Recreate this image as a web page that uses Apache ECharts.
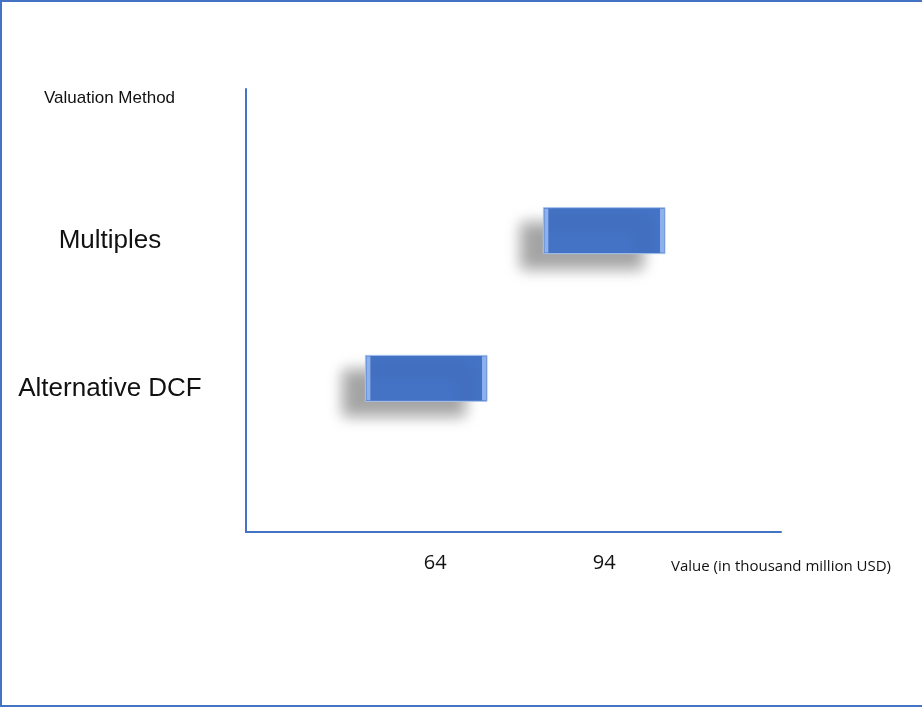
<!DOCTYPE html>
<html>
<head>
<meta charset="utf-8">
<script src="https://cdn.jsdelivr.net/npm/echarts@6/dist/echarts.min.js"></script>
<style>
  html, body { margin: 0; padding: 0; background: #fff; }
  #frame { position: absolute; left: 0; top: 0; width: 922px; height: 707px; box-sizing: border-box;
           border-left: 2px solid #4472C4; border-top: 2px solid #4472C4; border-bottom: 2px solid #4472C4; }
  #chart { position: absolute; left: 0; top: 0; width: 922px; height: 707px; }
</style>
</head>
<body>
<div id="frame"></div>
<div id="chart"></div>
<script>
// Categories (slot 0 and 3 are empty padding slots on the axis)
const categories = ['', 'Alternative DCF', 'Multiples', ''];
// Range of each valuation method (low / high), in thousand million USD
const rangeLow  = [null, 51.6, 83.2, null];
const rangeHigh = [null, 73.2, 104.8, null];
// Tick labels shown on the value axis
const tickLabels = [64, 94];
const xMin = 30.4, xMax = 125.4;

const chart = echarts.init(document.getElementById('chart'), null, { renderer: 'canvas' });

const barData = [];
for (let i = 0; i < categories.length; i++) {
  if (rangeLow[i] != null) barData.push([rangeLow[i], rangeHigh[i], i]);
}

function renderBar(params, api) {
  const p0 = api.coord([api.value(0), api.value(2)]);
  const p1 = api.coord([api.value(1), api.value(2)]);
  const h = 46;
  const x = p0[0], w = p1[0] - p0[0];
  const y = p0[1] - h / 2 - 6;
  return {
    type: 'group',
    children: [
      { type: 'rect', shape: { x: x, y: y, width: w, height: h },
        style: { fill: '#4472C4', stroke: '#A9C4EE', lineWidth: 1,
                 shadowBlur: 14, shadowOffsetX: -22, shadowOffsetY: 15, shadowColor: 'rgba(0,0,0,0.36)' } },
      { type: 'rect', shape: { x: x + 1, y: y + 1, width: 4, height: h - 2 },
        style: { fill: '#8DB1EC' } },
      { type: 'rect', shape: { x: x + w - 5, y: y + 1, width: 4, height: h - 2 },
        style: { fill: '#8DB1EC' } }
    ]
  };
}

chart.setOption({
  animation: false,
  backgroundColor: 'transparent',
  title: [
    { text: 'Valuation Method', left: 39, top: 85,
      textStyle: { fontFamily: 'Liberation Sans', fontSize: 17, fontWeight: 'normal', color: '#111' } },
    { text: 'Value (in thousand million USD)', left: 666, top: 554,
      textStyle: { fontFamily: 'Open Sans', fontSize: 15, fontWeight: 'normal', color: '#111' } }
  ],
  grid: { left: 246, right: 141, top: 89, bottom: 175, containLabel: false },
  xAxis: {
    type: 'value', min: xMin, max: xMax,
    axisLine: { show: true, lineStyle: { color: '#4472C4', width: 2 } },
    axisTick: { show: false },
    splitLine: { show: false },
    axisLabel: {
      customValues: tickLabels,
      margin: 21,
      fontFamily: 'Open Sans', fontSize: 20, color: '#111'
    }
  },
  yAxis: {
    type: 'category', data: categories, boundaryGap: false,
    axisLine: { show: true, lineStyle: { color: '#4472C4', width: 2 } },
    axisTick: { show: false },
    splitLine: { show: false },
    axisLabel: {
      interval: 0, align: 'center', margin: 136,
      verticalAlign: 'top', lineHeight: 8,
      fontFamily: 'Liberation Sans', fontSize: 26, color: '#111'
    }
  },
  series: [{
    type: 'custom',
    renderItem: renderBar,
    encode: { x: [0, 1], y: 2 },
    data: barData
  }]
});
</script>
</body>
</html>
